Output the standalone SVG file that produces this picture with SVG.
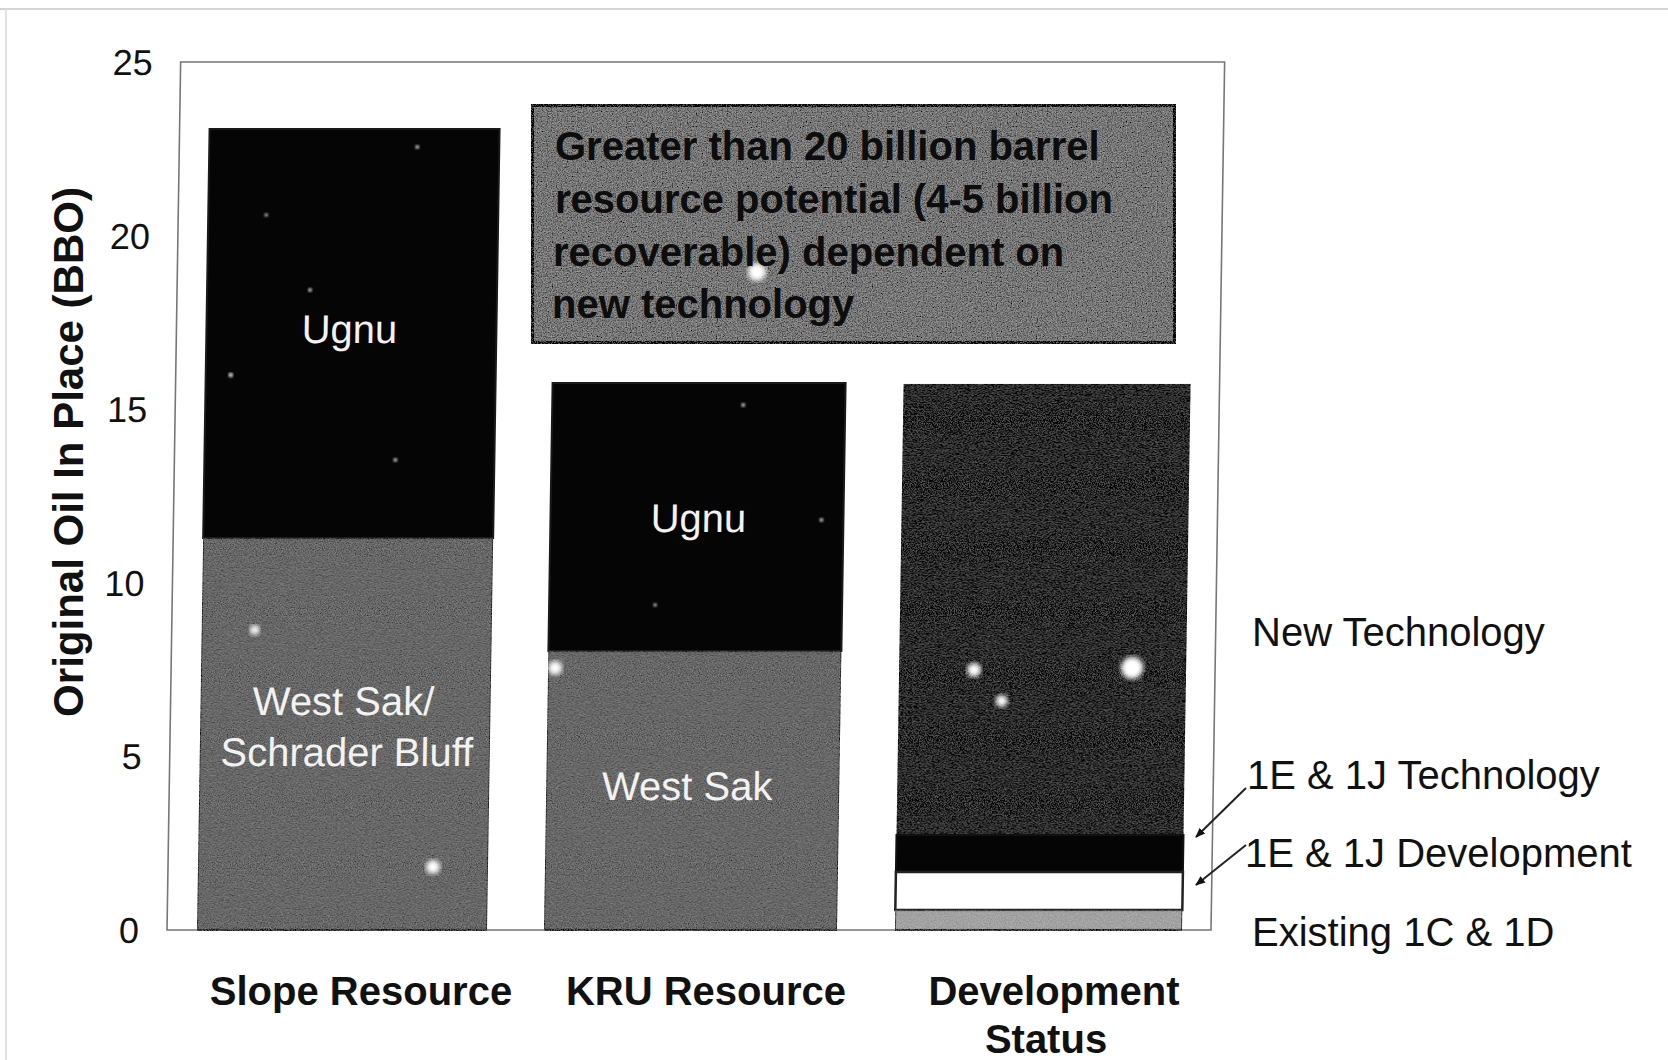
<svg xmlns="http://www.w3.org/2000/svg" width="1668" height="1060" viewBox="0 0 1668 1060">
<defs>
  <filter id="grain" x="0" y="0" width="100%" height="100%">
    <feTurbulence type="fractalNoise" baseFrequency="0.85" numOctaves="2" seed="7" result="n"/>
    <feColorMatrix in="n" type="matrix" values="1 0 0 0 0  1 0 0 0 0  1 0 0 0 0  0 0 0 0 1" result="g"/>
    <feComposite in="SourceGraphic" in2="g" operator="arithmetic" k1="0" k2="1" k3="0.35" k4="-0.175"/>
  </filter>
  <filter id="grainHeavy" x="0" y="0" width="100%" height="100%">
    <feTurbulence type="fractalNoise" baseFrequency="0.8" numOctaves="2" seed="11" result="n"/>
    <feColorMatrix in="n" type="matrix" values="1 0 0 0 0  1 0 0 0 0  1 0 0 0 0  0 0 0 0 1" result="g"/>
    <feComposite in="SourceGraphic" in2="g" operator="arithmetic" k1="0" k2="1" k3="0.55" k4="-0.275"/>
  </filter>
  <filter id="blur"><feGaussianBlur stdDeviation="2.5"/></filter>
  <filter id="blurSmall"><feGaussianBlur stdDeviation="1"/></filter>
  <marker id="arr" viewBox="0 0 10 10" refX="9" refY="5" markerWidth="10" markerHeight="10" markerUnits="userSpaceOnUse" orient="auto">
    <path d="M0,1 L10,5 L0,9 z" fill="#111"/>
  </marker>
  <style>
    .tick{font-family:"Liberation Sans",Arial,sans-serif;font-size:36px;fill:#111;text-anchor:end}
    .cat{font-family:"Liberation Sans",Arial,sans-serif;font-size:40px;font-weight:bold;fill:#111;text-anchor:middle}
    .ytitle{font-family:"Liberation Sans",Arial,sans-serif;font-size:42px;font-weight:bold;fill:#111;text-anchor:middle}
    .lbl{font-family:"Liberation Sans",Arial,sans-serif;font-size:40px;fill:#f2f2f2;text-anchor:middle}
    .leg{font-family:"Liberation Sans",Arial,sans-serif;font-size:40px;fill:#111}
    .box{font-family:"Liberation Sans",Arial,sans-serif;font-size:40px;font-weight:bold;fill:#0d0d0d}
    .dark{fill:#050505;stroke:#1a1a1a;stroke-width:2}
    .gray{fill:#676767;stroke:#333;stroke-width:2}
    .frame{fill:none;stroke:#777;stroke-width:1.6}
    .spot{fill:#fff;filter:url(#blur)}
    .speck{fill:#bbb;filter:url(#blurSmall)}
  </style>
</defs>
<rect width="1668" height="1060" fill="#ffffff"/>
<line x1="0" y1="9" x2="1668" y2="9" stroke="#d4d4d4" stroke-width="2"/>
<line x1="6" y1="9" x2="6" y2="1060" stroke="#e2e2e2" stroke-width="2"/>

<g id="chart" transform="translate(0,930) skewX(-0.9) translate(0,-930)">
  <rect id="plot-area" class="frame" x="167" y="62" width="1044" height="868"/>
  <g id="y-ticks">
    <text class="tick" x="139" y="943">0</text>
    <text class="tick" x="139" y="769">5</text>
    <text class="tick" x="139" y="596">10</text>
    <text class="tick" x="139" y="422">15</text>
    <text class="tick" x="139" y="249">20</text>
    <text class="tick" x="139" y="75">25</text>
  </g>
  <g id="bar-slope">
    <rect class="dark" x="197" y="129" width="290" height="409"/>
    <circle class="speck" cx="222" cy="375" r="2.5"/>
    <circle class="speck" cx="405" cy="147" r="2"/>
    <circle class="speck" cx="300" cy="290" r="2"/>
    <circle class="speck" cx="388" cy="460" r="2"/>
    <circle class="speck" cx="255" cy="215" r="1.8"/>
    <rect class="gray" x="197" y="538" width="290" height="392" filter="url(#grain)"/>
    <circle class="spot" cx="432" cy="867" r="7"/>
    <circle class="spot" cx="250" cy="630" r="5"/>
    <text class="lbl" x="340" y="343">Ugnu</text>
    <text class="lbl" x="340" y="715">West Sak/</text>
    <text class="lbl" x="344" y="766">Schrader Bluff</text>
  </g>
  <g id="bar-kru">
    <rect class="dark" x="544" y="383" width="293" height="268"/>
    <circle class="speck" cx="735" cy="405" r="2"/>
    <circle class="speck" cx="815" cy="520" r="2"/>
    <circle class="speck" cx="650" cy="605" r="1.8"/>
    <rect class="gray" x="544" y="651" width="293" height="279" filter="url(#grain)"/>
    <circle class="spot" cx="551" cy="668" r="7"/>
    <text class="lbl" x="692" y="532">Ugnu</text>
    <text class="lbl" x="685" y="800">West Sak</text>
  </g>
  <g id="bar-dev">
    <rect x="895" y="384" width="287" height="451" fill="#262626" stroke="#1a1a1a" stroke-width="2" filter="url(#grain)"/>
    <rect x="895" y="835" width="287" height="37" fill="#050505" stroke="#111" stroke-width="2"/>
    <rect x="895" y="872" width="287" height="38" fill="#ffffff" stroke="#222" stroke-width="2.5"/>
    <rect x="895" y="910" width="287" height="20" fill="#a2a2a2" stroke="#333" stroke-width="2" filter="url(#grain)"/>
    <circle class="spot" cx="1128" cy="668" r="11"/>
    <circle class="spot" cx="970" cy="670" r="7"/>
    <circle class="spot" cx="998" cy="701" r="6"/>
  </g>
</g>

<g id="note-box">
  <rect x="531" y="104" width="645" height="240" fill="#767676" stroke="#0a0a0a" stroke-width="6" filter="url(#grainHeavy)"/>
  <circle class="spot" cx="757" cy="272" r="9"/>
  <text class="box" x="555" y="160">Greater than 20 billion barrel</text>
  <text class="box" x="555" y="213">resource potential (4-5 billion</text>
  <text class="box" x="553" y="266">recoverable) dependent on</text>
  <text class="box" x="552" y="318">new technology</text>
</g>

<text id="y-title" class="ytitle" transform="translate(83,452) rotate(-90)">Original Oil In Place (BBO)</text>

<g id="categories">
  <text class="cat" x="361" y="1005">Slope Resource</text>
  <text class="cat" x="706" y="1005">KRU Resource</text>
  <text class="cat" x="1054" y="1005">Development</text>
  <text class="cat" x="1046" y="1053">Status</text>
</g>

<g id="legend">
  <text class="leg" x="1252" y="646">New Technology</text>
  <text class="leg" x="1247" y="789">1E &amp; 1J Technology</text>
  <text class="leg" x="1245" y="867">1E &amp; 1J Development</text>
  <text class="leg" x="1252" y="946">Existing 1C &amp; 1D</text>
</g>

<g id="connectors" stroke="#222" stroke-width="2" fill="none">
  <line x1="1246" y1="788" x2="1196" y2="837" marker-end="url(#arr)"/>
  <line x1="1246" y1="845" x2="1196" y2="885" marker-end="url(#arr)"/>
</g>
</svg>
